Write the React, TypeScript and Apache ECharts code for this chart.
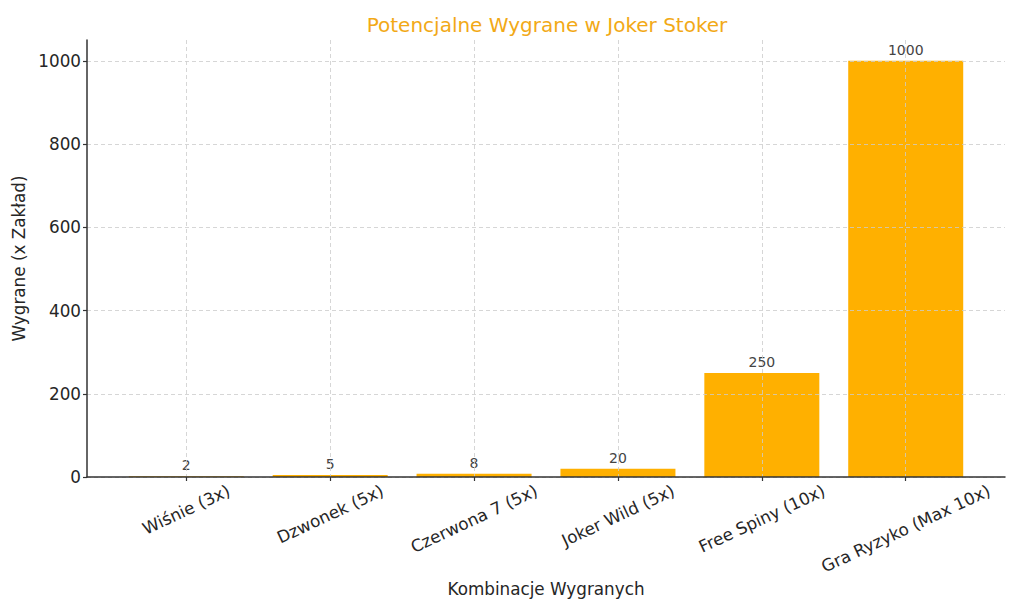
import React, { useEffect, useRef } from "react";
import * as echarts from "echarts";

const categories = [
  "Wiśnie (3x)",
  "Dzwonek (5x)",
  "Czerwona 7 (5x)",
  "Joker Wild (5x)",
  "Free Spiny (10x)",
  "Gra Ryzyko (Max 10x)",
];
const values = [2, 5, 8, 20, 250, 1000];
const yTicks = [0, 200, 400, 600, 800, 1000];
const xTicks = [0, 1, 2, 3, 4, 5];

const TITLE = "Potencjalne Wygrane w Joker Stoker";
const X_NAME = "Kombinacje Wygranych";
const Y_NAME = "Wygrane (x Zakład)";

const FONT = "'DejaVu Sans', 'Liberation Sans', sans-serif";
const BAR_COLOR = "#FFB000";
const TEXT_COLOR = "#262626";
const ROT = 25;
const X_MIN = -0.69;
const X_MAX = 5.69;

export default function App() {
  const ref = useRef<HTMLDivElement>(null);

  useEffect(() => {
    if (!ref.current) return;
    const chart = echarts.init(ref.current, undefined, { renderer: "svg" });

    // measure label widths so each rotated label is centred under its tick
    const canvas = document.createElement("canvas");
    const ctx = canvas.getContext("2d");
    const fs = 16.8;
    const lh = 19;
    const rad = (ROT * Math.PI) / 180;
    const margins = categories.map((c) => {
      let w = c.length * 9;
      if (ctx) {
        ctx.font = `${fs}px 'DejaVu Sans'`;
        w = ctx.measureText(c).width;
      }
      const H = w * Math.sin(rad) + lh * Math.cos(rad);
      return 4 + H / 2;
    });

    const labelAxes = xTicks.map((t, i) => ({
      type: "value",
      gridIndex: 0,
      position: "bottom",
      min: X_MIN,
      max: X_MAX,
      axisLine: { show: false, onZero: false },
      axisTick: { show: false },
      splitLine: { show: false },
      axisLabel: {
        customValues: [t],
        rotate: ROT,
        align: "center",
        verticalAlign: "middle",
        margin: margins[i],
        fontFamily: FONT,
        fontSize: fs,
        lineHeight: lh,
        color: TEXT_COLOR,
        formatter: () => categories[i],
      },
    }));

    const option: any = {
      animation: false,
      backgroundColor: "#ffffff",
      title: {
        text: TITLE,
        left: 542,
        top: 10,
        textAlign: "center",
        textStyle: {
          color: "#F2A916",
          fontFamily: FONT,
          fontSize: 20,
          fontWeight: "normal",
        },
      },
      grid: {
        left: 87,
        right: 19,
        top: 40,
        bottom: 137,
        containLabel: false,
        outerBoundsMode: "none",
      },
      xAxis: [
        {
          type: "value",
          min: X_MIN,
          max: X_MAX,
          z: 3,
          position: "bottom",
          name: X_NAME,
          nameLocation: "middle",
          nameGap: 103,
          nameTextStyle: { fontFamily: FONT, fontSize: 16.8, color: TEXT_COLOR },
          axisLine: { show: true, onZero: false, lineStyle: { color: "#333333", width: 1.5 } },
          axisTick: {
            show: true,
            length: 4,
            customValues: xTicks,
            lineStyle: { color: "#333333", width: 1.2 },
          },
          axisLabel: { show: false },
          splitLine: {
            show: true,
            lineStyle: { color: "#cccccc", type: [4, 3], width: 0.8 },
          },
        },
        ...labelAxes,
      ],
      yAxis: {
        type: "value",
        min: 0,
        max: 1050,
        z: 3,
        name: Y_NAME,
        nameLocation: "middle",
        nameGap: 47,
        nameRotate: 90,
        nameTextStyle: { fontFamily: FONT, fontSize: 16.8, color: TEXT_COLOR },
        axisLine: { show: true, onZero: false, lineStyle: { color: "#333333", width: 1.5 } },
        axisTick: {
          show: true,
          length: 4,
          customValues: yTicks,
          lineStyle: { color: "#333333", width: 1.2 },
        },
        axisLabel: {
          customValues: yTicks,
          margin: 6,
          fontFamily: FONT,
          fontSize: 16.8,
          color: TEXT_COLOR,
          formatter: (v: number) => String(v),
        },
        splitLine: {
          show: true,
          lineStyle: { color: "#cccccc", type: [4, 3], width: 0.8 },
        },
      },
      series: [
        {
          type: "bar",
          xAxisIndex: 0,
          yAxisIndex: 0,
          z: 1,
          barWidth: 115,
          data: values.map((v, i) => [i, v]),
          itemStyle: { color: BAR_COLOR },
          label: {
            show: true,
            position: "top",
            distance: 4,
            fontFamily: FONT,
            fontSize: 14,
            color: "#444444",
            formatter: (p: any) => String(p.value[1]),
          },
        },
      ],
    };

    chart.setOption(option);
    return () => chart.dispose();
  }, []);

  return (
    <div
      ref={ref}
      style={{ position: "fixed", left: 0, top: 0, width: 1024, height: 614 }}
    />
  );
}
